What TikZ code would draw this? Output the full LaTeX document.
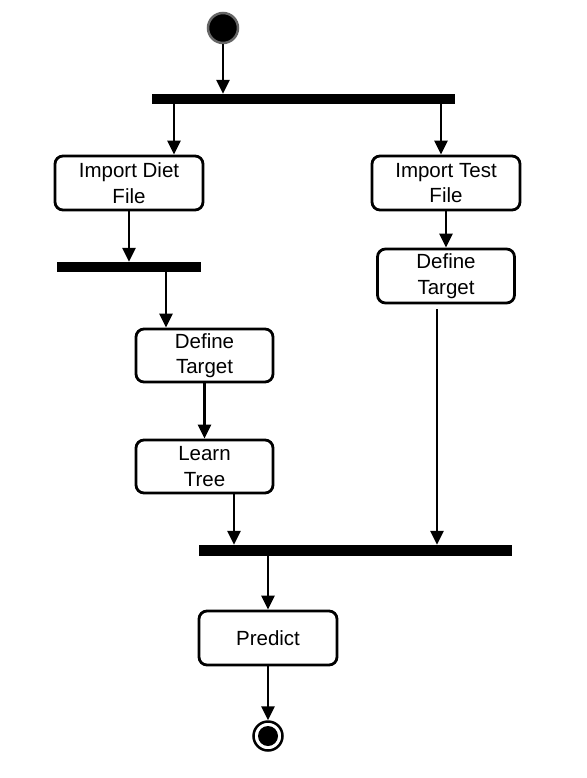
\documentclass[tikz,border=0pt]{standalone}
\usepackage{fontspec}
\setmainfont{Liberation Sans}
\usetikzlibrary{arrows.meta}

\tikzset{
  action/.style={draw,line width=2.8pt,rounded corners=8pt,align=center,
    inner sep=0pt,font=\fontsize{20.5}{25.5}\selectfont},
  syncbar/.style={fill=black,rectangle,inner sep=0pt},
  flow/.style={line width=2.8pt,-{Triangle[length=14pt,width=13pt]}}
}

\begin{document}
\begin{tikzpicture}[x=1pt,y=-1pt]
    \useasboundingbox (0,0) rectangle (586,778);
    \node[circle,fill=black,draw=black!60,line width=2.5pt,minimum size=30pt,inner sep=0pt] (start) at (223,28) {};
    \node[syncbar,minimum width=303pt,minimum height=10pt] (fork) at (303.5,99) {};
    \node[action,minimum width=148pt,minimum height=54pt] (diet) at (129,183) {Import Diet\\File};
    \node[action,minimum width=148pt,minimum height=54pt] (test) at (446,183) {Import Test\\File};
    \node[syncbar,minimum width=144pt,minimum height=10pt] (dietbar) at (129,267) {};
    \node[action,minimum width=137pt,minimum height=53pt] (target) at (204.5,355.5) {Define\\Target};
    \node[action,minimum width=137pt,minimum height=53pt] (learn) at (204.5,466.5) {Learn\\Tree};
    \node[action,minimum width=137pt,minimum height=54pt] (testtarget) at (446,276) {Define\\Target};
    \node[syncbar,minimum width=313pt,minimum height=11pt] (join) at (355.5,550.5) {};
    \node[action,minimum width=138pt,minimum height=54pt] (predict) at (268,638) {Predict};
    \node[circle,draw=black,line width=2.5pt,minimum size=29pt,inner sep=0pt] (stop) at (268,736) {};
    \node[circle,fill=black,minimum size=20pt,inner sep=0pt] (stopdot) at (stop) {};
    \draw[flow] (start.south) -- (start |- fork.north);
    \draw[flow] ([xshift=45pt]diet.north |- fork.south) -- ([xshift=45pt]diet.north);
    \draw[flow] ([xshift=-5pt]test.north |- fork.south) -- ([xshift=-5pt]test.north);
    \draw[flow] (diet.south) -- (dietbar.north);
    \draw[flow] ([xshift=-38.5pt]target.north |- dietbar.south) -- ([xshift=-38.5pt]target.north);
    \draw[flow] (target.south) -- (learn.north);
    \draw[flow] ([xshift=29.5pt]learn.south) -- ([xshift=29.5pt]learn.south |- join.north);
    \draw[flow] (test.south) -- (testtarget.north);
    \draw[flow] ([xshift=-9pt,yshift=-5pt]testtarget.south) -- ([xshift=-9pt]testtarget.south |- join.north);
    \draw[flow] (predict.north |- join.south) -- (predict.north);
    \draw[flow] (predict.south) -- (stop.north);
\end{tikzpicture}
\end{document}
